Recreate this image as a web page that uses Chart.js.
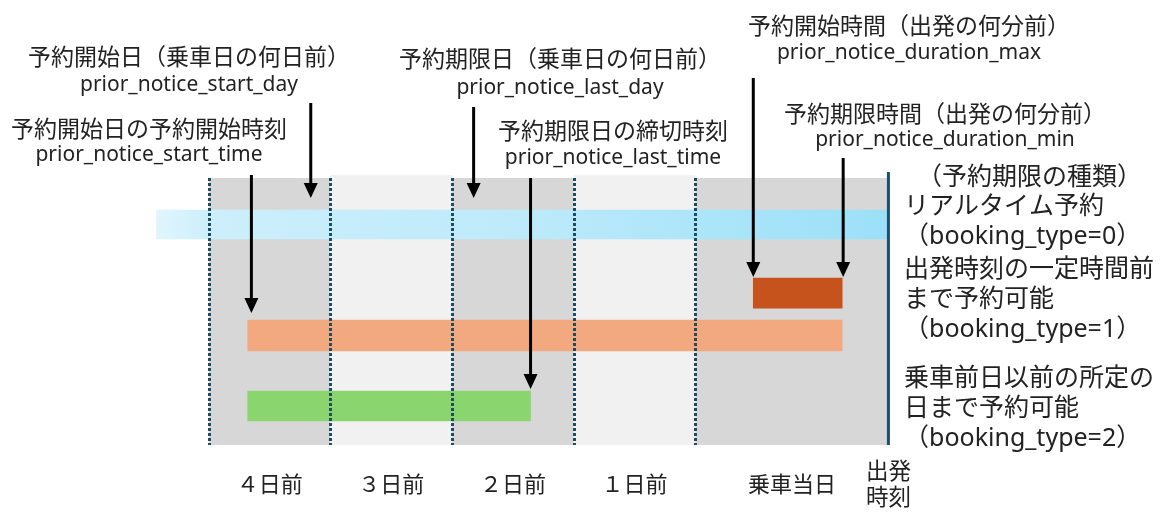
<!DOCTYPE html>
<html lang="ja">
<head>
<meta charset="utf-8">
<title>予約期限の種類</title>
<script src="https://cdn.jsdelivr.net/npm/chart.js@4.4.1/dist/chart.umd.min.js"></script>
<style>
  html, body { margin: 0; padding: 0; background: #fff; }
</style>
</head>
<body>
<canvas id="chart" width="1163" height="512"></canvas>
<script>
'use strict';

// day columns on the x axis (1 unit = 1 day column), departure closes the last one
const dayLabels = ['４日前', '３日前', '２日前', '１日前', '乗車当日'];
const dayBounds = [0, 1, 2, 3, 4];
const departure = 5.587;
const departureLabel = ['出発', '時刻'];

// booking windows, floating bars [start, end] on the day axis
const bookingNames = ['リアルタイム予約', '予約開始時間〜予約期限時間', '予約開始日〜出発時刻前', '予約開始日〜予約期限日'];
const barRows = [1.74, 4.31, 5.9, 8.54];
const barStart = [-0.43, 4.476, 0.32, 0.32];
const barEnd = [5.587, 5.207, 5.207, 2.645];

// field captions and the point each arrow marks
const captionJa = ['予約開始日（乗車日の何日前）', '予約開始日の予約開始時刻', '予約期限日（乗車日の何日前）',
  '予約期限日の締切時刻', '予約開始時間（出発の何分前）', '予約期限時間（出発の何分前）'];
const captionEn = ['prior_notice_start_day', 'prior_notice_start_time', 'prior_notice_last_day',
  'prior_notice_last_time', 'prior_notice_duration_max', 'prior_notice_duration_min'];
const arrowX = [0.838, 0.35, 2.177, 2.645, 4.476, 5.215];
const arrowTip = [0.75, 5.06, 0.75, 7.9, 3.71, 3.71];

// booking type legend on the right
const typeTitle = '（予約期限の種類）';
const typeLines = [
  ['リアルタイム予約', '（booking_type=0）'],
  ['出発時刻の一定時間前', 'まで予約可能', '（booking_type=1）'],
  ['乗車前日以前の所定の', '日まで予約可能', '（booking_type=2）']
];

// layout (pixels) for the annotation text
const captionPos = [[189, 56, 85], [149, 128, 155], [560, 58, 88], [613, 130, 158], [909, 25, 53], [945, 113, 140]];
const arrowStart = [103, 175, 107, 178, 78, 158];
const typeBlockY = [207, 270, 379];
const TEXT = '#222';
const JP = '"Noto Sans CJK JP"';

const columnShade = ['#d7d7d7', '#f1f1f1', '#d7d7d7', '#f1f1f1', '#d7d7d7'];
const barThick = [29, 30, 31, 30];

function blueFill(context) {
  const chart = context.chart;
  if (!chart.chartArea) return '#c4ecfb';
  const x = chart.scales.x;
  const x0 = x.getPixelForValue(barStart[0]);
  const x1 = x.getPixelForValue(barEnd[0]);
  const g = chart.ctx.createLinearGradient(x0, 0, x1, 0);
  g.addColorStop(0, '#e0f5fd');
  g.addColorStop(0.07, '#cdeffb');
  g.addColorStop(0.5, '#bdeafa');
  g.addColorStop(1, '#9be0f8');
  return g;
}
const barColors = [blueFill, '#c5531b', '#f3a97f', '#8bd56f'];

function arrow(ctx, x, y0, y1) {
  ctx.beginPath();
  ctx.moveTo(x, y0);
  ctx.lineTo(x, y1 - 12);
  ctx.stroke();
  ctx.beginPath();
  ctx.moveTo(x - 7, y1 - 15);
  ctx.lineTo(x + 7, y1 - 15);
  ctx.lineTo(x, y1);
  ctx.closePath();
  ctx.fill();
}

const diagram = {
  id: 'diagram',
  beforeDatasetsDraw(chart) {
    const { ctx, chartArea: area, scales: { x } } = chart;
    ctx.save();
    dayBounds.forEach((b, i) => {
      const left = x.getPixelForValue(b);
      const right = x.getPixelForValue(i < dayBounds.length - 1 ? dayBounds[i + 1] : departure);
      const top = i % 2 ? area.top - 3 : area.top;
      ctx.fillStyle = columnShade[i];
      ctx.fillRect(left, top, right - left, area.bottom - top);
    });
    ctx.restore();
  },
  afterDatasetsDraw(chart) {
    const { ctx, chartArea: area, scales: { x, y } } = chart;
    ctx.save();

    // day boundaries
    ctx.strokeStyle = '#1e4d62';
    ctx.lineWidth = 3;
    ctx.setLineDash([3, 2]);
    dayBounds.forEach(b => {
      const px = Math.round(x.getPixelForValue(b)) + 0.5;
      ctx.beginPath();
      ctx.moveTo(px, area.top);
      ctx.lineTo(px, area.bottom);
      ctx.stroke();
    });
    ctx.setLineDash([]);

    // departure
    const dep = x.getPixelForValue(departure);
    ctx.strokeStyle = '#1f4e6e';
    ctx.beginPath();
    ctx.moveTo(dep, area.top - 6);
    ctx.lineTo(dep, area.bottom);
    ctx.stroke();

    // arrows
    ctx.strokeStyle = '#000';
    ctx.fillStyle = '#000';
    ctx.lineWidth = 3;
    arrowX.forEach((v, i) => arrow(ctx, x.getPixelForValue(v), arrowStart[i], y.getPixelForValue(arrowTip[i])));

    // captions
    ctx.fillStyle = TEXT;
    ctx.textAlign = 'center';
    ctx.textBaseline = 'middle';
    captionJa.forEach((t, i) => {
      const [cx, yJa, yEn] = captionPos[i];
      ctx.font = '23px ' + JP;
      ctx.fillText(t, cx, yJa);
      ctx.font = '21px "Noto Sans"';
      ctx.fillText(captionEn[i], cx, yEn);
    });

    ctx.font = '22.5px ' + JP;
    departureLabel.forEach((t, i) => ctx.fillText(t, dep, 470 + i * 26));

    // booking types
    ctx.textAlign = 'left';
    ctx.font = '25px "Noto Sans", ' + JP;
    ctx.fillText(typeTitle, 917, 178);
    typeLines.forEach((lines, b) => {
      lines.forEach((t, i) => ctx.fillText(t, 904, typeBlockY[b] + i * 30));
    });
    ctx.restore();
  }
};

new Chart(document.getElementById('chart'), {
  type: 'bar',
  data: {
    datasets: bookingNames.map((name, i) => ({
      label: name,
      data: [{ x: [barStart[i], barEnd[i]], y: barRows[i] }],
      backgroundColor: barColors[i],
      barThickness: barThick[i],
      grouped: false,
      borderWidth: 0
    }))
  },
  options: {
    indexAxis: 'y',
    responsive: false,
    animation: false,
    layout: { padding: { left: 148, right: 273, top: 178, bottom: 0 } },
    plugins: {
      legend: { display: false },
      tooltip: { enabled: false }
    },
    scales: {
      x: {
        type: 'linear',
        min: -0.5,
        max: 5.6,
        bounds: 'data',
        grid: { display: false, drawTicks: false },
        border: { display: false },
        afterBuildTicks: axis => {
          axis.ticks = dayBounds.map((b, i) => ({
            value: (b + (i < dayBounds.length - 1 ? dayBounds[i + 1] : departure)) / 2
          }));
        },
        afterFit: axis => { axis.height = 67; },
        ticks: {
          autoSkip: false,
          maxRotation: 0,
          padding: 25,
          color: TEXT,
          font: { family: 'Noto Sans CJK JP', size: 22 },
          callback: (v, i) => dayLabels[i]
        }
      },
      y: {
        type: 'linear',
        min: 0,
        max: 10,
        reverse: true,
        offset: false,
        bounds: 'data',
        display: false
      }
    }
  },
  plugins: [diagram]
});
</script>
</body>
</html>
